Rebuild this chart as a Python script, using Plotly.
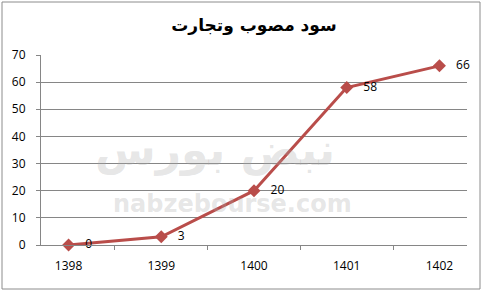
import plotly.graph_objects as go

years = ["1398", "1399", "1400", "1401", "1402"]
profit = [0, 3, 20, 58, 66]
title_text = "سود مصوب وتجارت"
wm_en = "nabzebourse.com"
wm_fa = "نبض بورس"

W, H = 484, 294
L, R, T, B = 41, 467, 55, 245

def px(x):
    return (x - L) / (R - L)

def py(y):
    return (B - y) / (B - T)

fig = go.Figure()
fig.add_trace(go.Scatter(
    x=years, y=profit, mode="lines+markers+text",
    line=dict(color="#B94D4A", width=3),
    marker=dict(symbol="diamond", size=10, color="#B94D4A"),
    text=["   " + str(v) for v in profit], textposition="middle right",
    textfont=dict(family="Open Sans", size=12, color="#000000"),
    cliponaxis=False, showlegend=False,
))

fig.update_layout(
    width=W, height=H,
    margin=dict(l=L, r=W - R, t=T, b=H - B),
    paper_bgcolor="white", plot_bgcolor="white",
    title=dict(text=title_text, x=0.5, xref="paper", xanchor="center",
               y=1 - 25 / H, yanchor="middle",
               font=dict(family="DejaVu Sans", size=17, color="#000000", weight="bold")),
    xaxis=dict(type="category", showgrid=False, showline=True, linecolor="#868686",
               ticks="outside", tickson="boundaries", ticklen=4, tickcolor="#868686",
               ticklabelstandoff=10,
               tickfont=dict(family="Open Sans", size=12, color="#000000"),
               fixedrange=True),
    yaxis=dict(range=[0, 70], dtick=10, showgrid=True, gridcolor="#868686", gridwidth=1,
               showline=True, linecolor="#868686", ticks="outside", ticklen=4,
               tickcolor="#868686", zeroline=False, ticklabelstandoff=8,
               tickfont=dict(family="Open Sans", size=12, color="#000000")),
    shapes=[dict(type="rect", xref="paper", yref="paper",
                 x0=px(2), x1=px(480), y0=py(289), y1=py(2),
                 line=dict(color="#8c8c8c", width=1), layer="below")],
    annotations=[
        dict(text=wm_fa, xref="paper", yref="paper", x=px(215), y=py(150),
             xanchor="center", yanchor="middle",
             showarrow=False, font=dict(family="DejaVu Sans", size=44, color="rgba(170,170,170,0.3)",
                                        weight="bold")),
        dict(text=wm_en, xref="paper", yref="paper", x=px(232), y=py(204),
             xanchor="center", yanchor="middle",
             showarrow=False, font=dict(family="DejaVu Sans", size=24, color="rgba(170,170,170,0.3)",
                                        weight="bold")),
    ],
)

fig.write_html("out.html")
